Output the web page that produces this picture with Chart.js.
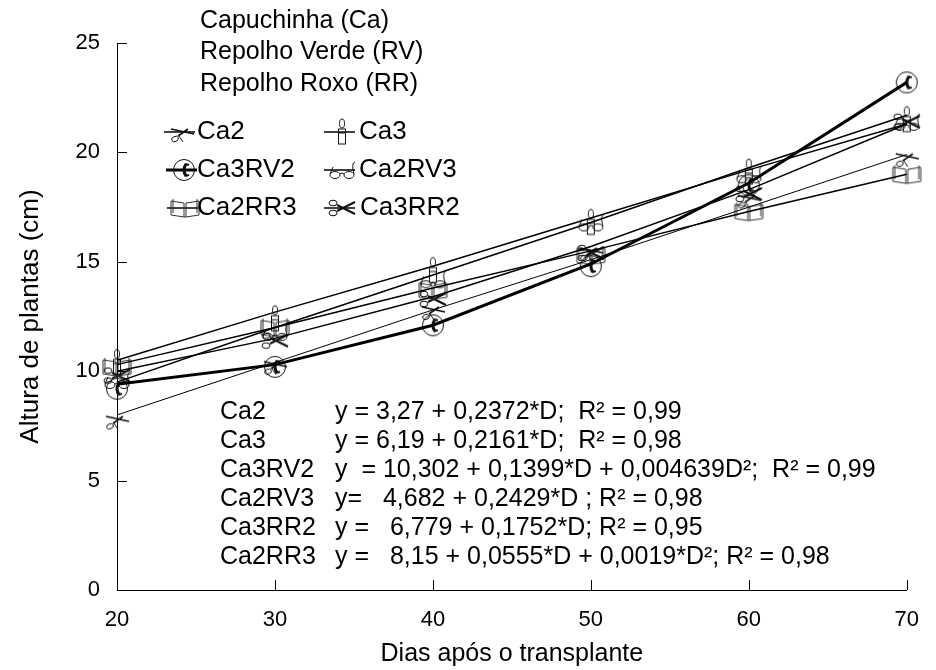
<!DOCTYPE html>
<html>
<head>
<meta charset="utf-8">
<script src="https://cdn.jsdelivr.net/npm/chart.js@4.4.1/dist/chart.umd.min.js"></script>
<style>
  html, body { margin: 0; padding: 0; background: #fff; }
  #wrap { width: 936px; height: 670px; }
</style>
</head>
<body>
<div id="wrap"><canvas id="plantChart" width="936" height="670"></canvas></div>
<script>
// days after transplant
const days = [20, 30, 40, 50, 60, 70];

const seriesNames = ["Ca2", "Ca3", "Ca3RV2", "Ca2RV3", "Ca2RR3", "Ca3RR2"];

// observed heights (markers)
const ca2Obs    = [7.8, 10.3, 12.8, 15.5, 17.9, 19.8];
const ca3Obs    = [10.4, 12.4, 14.6, 16.8, 19.1, 21.5];
const ca3rv2Obs = [9.2, 10.2, 12.1, 14.8, 18.5, 23.2];
const ca2rv3Obs = [9.6, 11.8, 14.2, 16.8, 19.0, 21.4];
const ca2rr3Obs = [10.2, 12.0, 13.7, 15.3, 17.3, 19.0];
const ca3rr2Obs = [9.8, 11.4, 13.3, 15.4, 18.1, 21.4];

// fitted curves (lines)
const ca2Fit    = [8.0, 10.4, 12.8, 15.1, 17.5, 19.9];
const ca3Fit    = [10.5, 12.7, 14.8, 17.0, 19.2, 21.3];
const ca3rv2Fit = [9.4, 10.3, 12.1, 14.9, 18.6, 23.2];
const ca2rv3Fit = [9.5, 12.0, 14.4, 16.8, 19.3, 21.7];
const ca2rr3Fit = [10.3, 12.0, 13.8, 15.5, 17.3, 19.0];
const ca3rr2Fit = [10.0, 11.5, 13.4, 15.7, 18.3, 21.3];

const xTicks = [20, 30, 40, 50, 60, 70];
const yTicks = [0, 5, 10, 15, 20, 25];

const headerLines = ["Capuchinha (Ca)", "Repolho Verde (RV)", "Repolho Roxo (RR)"];
const eqNames = ["Ca2", "Ca3", "Ca3RV2", "Ca2RV3", "Ca3RR2", "Ca2RR3"];
const eqTexts = [
  "y = 3,27 + 0,2372*D;  R² = 0,99",
  "y = 6,19 + 0,2161*D;  R² = 0,98",
  "y  = 10,302 + 0,1399*D + 0,004639D²;  R² = 0,99",
  "y=   4,682 + 0,2429*D ; R² = 0,98",
  "y =   6,779 + 0,1752*D; R² = 0,95",
  "y =   8,15 + 0,0555*D + 0,0019*D²; R² = 0,98"
];

const FONT = '"Liberation Sans", Arial, sans-serif';

/* ============================
   SYMBOLS (wingding-like markers)
============================ */
function drawSymbol(g, kind, cx, cy) {
  g.save();
  g.translate(cx, cy);
  g.strokeStyle = "#111";
  g.fillStyle = "#111";
  g.lineWidth = 1;
  g.beginPath();
  if (kind === "scissors") {
    g.lineWidth = 1.6;
    g.moveTo(-11, -3); g.lineTo(12, 2);
    g.moveTo(-4, 4); g.lineTo(6, -3);
    g.stroke();
    g.lineWidth = 1;
    g.beginPath();
    g.ellipse(-7, 7, 3.5, 2.5, -0.4, 0, Math.PI * 2);
    g.stroke();
    g.beginPath();
    g.moveTo(-3, 4); g.lineTo(1, 10);
    g.stroke();
  } else if (kind === "candle") {
    g.strokeRect(-3.5, -3, 7, 15);
    g.beginPath();
    g.ellipse(0, -8.5, 2.5, 4.5, 0, 0, Math.PI * 2);
    g.stroke();
    g.beginPath();
    g.moveTo(-3.5, 1); g.lineTo(3.5, 1);
    g.stroke();
  } else if (kind === "phone") {
    g.arc(0, 0, 10.5, 0, Math.PI * 2);
    g.stroke();
    g.beginPath();
    g.lineWidth = 3;
    g.moveTo(2, -6);
    g.quadraticCurveTo(-2, 0, 2, 6);
    g.stroke();
    g.lineWidth = 2;
    g.beginPath();
    g.moveTo(1, -6); g.lineTo(5, -5);
    g.moveTo(1, 6); g.lineTo(5, 5);
    g.stroke();
  } else if (kind === "glasses") {
    g.ellipse(-7, 5, 5, 3.5, 0, 0, Math.PI * 2);
    g.stroke();
    g.beginPath();
    g.ellipse(7, 5, 5, 3.5, 0, 0, Math.PI * 2);
    g.stroke();
    g.beginPath();
    g.moveTo(-2, 4); g.quadraticCurveTo(0, 2, 2, 4);
    g.moveTo(-12, 4); g.lineTo(-9, -3);
    g.moveTo(12, 4); g.quadraticCurveTo(9, -7, 13, -8);
    g.stroke();
  } else if (kind === "book") {
    g.strokeStyle = "#333";
    g.moveTo(-14, -7); g.lineTo(-1, -5); g.lineTo(-1, 9); g.lineTo(-14, 7); g.closePath();
    g.moveTo(14, -7); g.lineTo(1, -5); g.lineTo(1, 9); g.lineTo(14, 7); g.closePath();
    g.moveTo(-12, -9); g.lineTo(-12, 5);
    g.moveTo(12, -9); g.lineTo(12, 5);
    g.moveTo(-1, 9); g.lineTo(1, 9);
    g.stroke();
  } else if (kind === "xscissors") {
    g.lineWidth = 2;
    g.moveTo(-5, -3); g.lineTo(13, 6);
    g.moveTo(-5, 3); g.lineTo(13, -6);
    g.stroke();
    g.lineWidth = 1;
    g.beginPath();
    g.ellipse(-9, -5, 4, 2.8, 0, 0, Math.PI * 2);
    g.stroke();
    g.beginPath();
    g.ellipse(-9, 5, 4, 2.8, 0, 0, Math.PI * 2);
    g.stroke();
  }
  g.restore();
}

function makeSymbol(kind) {
  const c = document.createElement("canvas");
  c.width = 32; c.height = 32;
  drawSymbol(c.getContext("2d"), kind, 16, 16);
  return c;
}

const kinds = ["scissors", "candle", "phone", "glasses", "book", "xscissors"];
const obsList = [ca2Obs, ca3Obs, ca3rv2Obs, ca2rv3Obs, ca2rr3Obs, ca3rr2Obs];
const fitList = [ca2Fit, ca3Fit, ca3rv2Fit, ca2rv3Fit, ca2rr3Fit, ca3rr2Fit];
const lineWidths = [1, 1.5, 3, 1.5, 1.5, 1.5];

const datasets = [];
seriesNames.forEach((name, i) => {
  datasets.push({
    label: name + " ajuste",
    data: days.map((d, k) => ({ x: d, y: fitList[i][k] })),
    showLine: true,
    borderColor: "#000",
    borderWidth: lineWidths[i],
    pointRadius: 0,
    clip: false
  });
});
seriesNames.forEach((name, i) => {
  datasets.push({
    label: name,
    data: days.map((d, k) => ({ x: d, y: obsList[i][k] })),
    showLine: false,
    pointStyle: makeSymbol(kinds[i]),
    pointRadius: 13,
    clip: false
  });
});

/* ============================
   TEXTS, LEGEND, INWARD TICKS
============================ */
const extras = {
  id: "extras",
  afterDraw(chart) {
    const ctx = chart.ctx;
    const { x, y } = chart.scales;
    ctx.save();
    ctx.strokeStyle = "#000";
    ctx.lineWidth = 1;
    // inward tick marks
    ctx.beginPath();
    xTicks.forEach(v => {
      const px = Math.round(x.getPixelForValue(v)) + 0.5;
      ctx.moveTo(px, y.bottom); ctx.lineTo(px, y.bottom - 10);
    });
    yTicks.forEach(v => {
      const py = Math.round(y.getPixelForValue(v)) + 0.5;
      ctx.moveTo(x.left, py); ctx.lineTo(x.left + 10, py);
    });
    ctx.stroke();

    ctx.fillStyle = "#000";
    ctx.textBaseline = "middle";
    ctx.textAlign = "left";

    // header
    ctx.font = "25px " + FONT;
    headerLines.forEach((t, i) => ctx.fillText(t, 200, 21 + i * 31.5));

    // legend
    const legPos = [
      [182, 132, 197], [342, 132, 359],
      [184, 170, 197], [342, 170, 359],
      [185, 208, 197], [342, 208, 360]
    ];
    ctx.font = "26px " + FONT;
    seriesNames.forEach((name, i) => {
      const [sx, sy, tx] = legPos[i];
      ctx.beginPath();
      ctx.lineWidth = lineWidths[i] > 2 ? 3 : 1.5;
      ctx.moveTo(sx - 18, sy); ctx.lineTo(sx + 13, sy);
      ctx.stroke();
      drawSymbol(ctx, kinds[i], sx, sy);
      ctx.fillText(name, tx, sy);
    });

    // equations
    ctx.font = "25px " + FONT;
    eqNames.forEach((n, i) => {
      const ty = 412 + i * 29;
      ctx.fillText(n, 220, ty);
      ctx.fillText(eqTexts[i], 335, ty);
    });
    ctx.restore();
  }
};

new Chart(document.getElementById("plantChart"), {
  type: "scatter",
  data: { datasets },
  options: {
    responsive: false,
    animation: false,
    layout: { padding: { left: 0, right: 24, top: 43, bottom: 0 } },
    scales: {
      x: {
        type: "linear",
        min: 20, max: 70,
        afterFit: s => { s.height = 80; },
        afterBuildTicks: s => { s.ticks = xTicks.map(v => ({ value: v })); },
        ticks: { color: "#000", font: { size: 22, family: FONT }, padding: 17 },
        grid: { display: false, drawTicks: false },
        border: { color: "#000", width: 1 },
        title: { display: true, text: "Dias após o transplante", color: "#000",
                 font: { size: 25, family: FONT }, padding: { top: 0, bottom: 1 } }
      },
      y: {
        min: 0, max: 25,
        afterFit: s => { s.width = 117; },
        afterBuildTicks: s => { s.ticks = yTicks.map(v => ({ value: v })); },
        ticks: { color: "#000", font: { size: 22, family: FONT }, padding: 17 },
        grid: { display: false, drawTicks: false },
        border: { color: "#000", width: 1 },
        title: { display: true, text: "Altura de plantas (cm)", color: "#000",
                 font: { size: 26, family: FONT }, padding: { top: 15 } }
      }
    },
    plugins: {
      legend: { display: false },
      tooltip: { enabled: false }
    }
  },
  plugins: [extras]
});
</script>
</body>
</html>
